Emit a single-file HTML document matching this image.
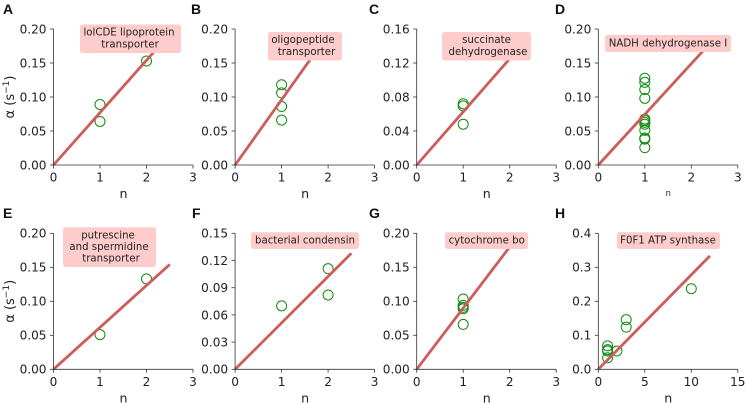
<!DOCTYPE html>
<html>
<head>
<meta charset="utf-8">
<style>
html,body{margin:0;padding:0;background:#fff;width:745px;height:403px;overflow:hidden}
svg{display:block}
text{font-family:"DejaVu Sans","Liberation Sans",sans-serif;fill:#222}
.tick{font-size:12.1px}
.axis{font-size:12.6px}
.ylab{font-size:13px}
.lab{font-size:10.2px;text-anchor:middle}
.letter{font-family:"Liberation Sans",sans-serif;font-weight:bold;font-size:14px;fill:#111}
</style>
</head>
<body>
<svg xmlns="http://www.w3.org/2000/svg" width="745" height="403" viewBox="0 0 745 403">
  <g id="marks"></g>

  <g>
    <text class="letter" x="3" y="14">A</text>
    <text class="letter" x="191" y="14">B</text>
    <text class="letter" x="369" y="14">C</text>
    <text class="letter" x="555" y="14">D</text>
    <text class="letter" x="3" y="218">E</text>
    <text class="letter" x="192" y="218">F</text>
    <text class="letter" x="369" y="218">G</text>
    <text class="letter" x="555" y="218">H</text>
  </g>

  <g>
    <g>
      <rect x="80" y="24.5" width="101" height="28.5" rx="2.5" fill="#ffcccc"/>
      <text class="lab" x="129" y="35.5">lolCDE lipoprotein</text>
      <text class="lab" x="130" y="47.5">transporter</text>
    </g>
    <g>
      <rect x="268" y="32" width="74" height="28.5" rx="2.5" fill="#ffcccc"/>
      <text class="lab" x="303" y="43">oligopeptide</text>
      <text class="lab" x="306.5" y="55">transporter</text>
    </g>
    <g>
      <rect x="442" y="32" width="89" height="28.5" rx="2.5" fill="#ffcccc"/>
      <text class="lab" x="486.5" y="43">succinate</text>
      <text class="lab" x="488" y="55">dehydrogenase</text>
    </g>
    <g>
      <rect x="605" y="35" width="126" height="17" rx="2.5" fill="#ffcccc"/>
      <text class="lab" x="668" y="46.5">NADH dehydrogenase I</text>
    </g>
    <g>
      <rect x="63" y="227.3" width="93" height="39.7" rx="2.5" fill="#ffcccc"/>
      <text class="lab" x="108" y="238.5">putrescine</text>
      <text class="lab" x="109" y="250">and spermidine</text>
      <text class="lab" x="111" y="261.5">transporter</text>
    </g>
    <g>
      <rect x="251" y="232.3" width="108" height="16.7" rx="2.5" fill="#ffcccc"/>
      <text class="lab" x="305" y="243.5">bacterial condensin</text>
    </g>
    <g>
      <rect x="445" y="232.3" width="83" height="16.7" rx="2.5" fill="#ffcccc"/>
      <text class="lab" x="486.7" y="243.5">cytochrome bo</text>
    </g>
    <g>
      <rect x="617" y="232.3" width="103" height="16.7" rx="2.5" fill="#ffcccc"/>
      <text class="lab" x="668" y="243.5">F0F1 ATP synthase</text>
    </g>
  </g>
</svg>
<script>
// Copy numbers per panel
const nA = [1, 1, 2];
const alphaA = [0.089, 0.064, 0.153];
const nB = [1, 1, 1, 1];
const alphaB = [0.118, 0.106, 0.086, 0.066];
const nC = [1, 1, 1];
const alphaC = [0.072, 0.0695, 0.048];
const nD = [1, 1, 1, 1, 1, 1, 1, 1, 1, 1, 1, 1];
const alphaD = [0.1275, 0.1216, 0.111, 0.098, 0.0676, 0.0657, 0.0627, 0.06, 0.051, 0.0397, 0.038, 0.0255];
const nE = [1, 2];
const alphaE = [0.051, 0.133];
const nF = [1, 2, 2];
const alphaF = [0.07, 0.111, 0.082];
const nG = [1, 1, 1, 1, 1];
const alphaG = [0.1034, 0.094, 0.091, 0.089, 0.066];
const nH = [1, 1, 1, 1, 2, 3, 3, 10];
const alphaH = [0.069, 0.058, 0.054, 0.034, 0.054, 0.146, 0.124, 0.237];

// Fit lines: rate per copy and last n drawn
const panelIds = ['a', 'b', 'c', 'd', 'e', 'f', 'g', 'h'];
const fitSlopes = [0.077, 0.096, 0.0625, 0.0745, 0.0617, 0.0512, 0.09, 0.0278];
const fitEnds = [2.3, 1.8, 2.1, 2.4, 2.5, 2.5, 2.05, 12];

// Tick labels
const xTicksA = ['0', '1', '2', '3'];
const xTicksH = ['0', '5', '10', '15'];
const yTicksA = ['0.00', '0.05', '0.10', '0.15', '0.20'];
const yTicksC = ['0.00', '0.04', '0.08', '0.12', '0.16'];
const yTicksF = ['0.00', '0.03', '0.06', '0.09', '0.12', '0.15'];
const yTicksH = ['0.0', '0.1', '0.2', '0.3', '0.4'];

const seriesX = [nA, nB, nC, nD, nE, nF, nG, nH];
const seriesY = [alphaA, alphaB, alphaC, alphaD, alphaE, alphaF, alphaG, alphaH];
const xTickSets = [xTicksA, xTicksA, xTicksA, xTicksA, xTicksA, xTicksA, xTicksA, xTicksH];
const yTickSets = [yTicksA, yTicksA, yTicksC, yTicksA, yTicksA, yTicksF, yTicksA, yTicksH];

const NS = 'http://www.w3.org/2000/svg';
const root = document.getElementById('marks');

function make(parent, tag, attrs, txt) {
  const e = document.createElementNS(NS, tag);
  for (const k in attrs) e.setAttribute(k, attrs[k]);
  if (txt !== undefined) e.textContent = txt;
  parent.appendChild(e);
  return e;
}

panelIds.forEach(function (id, i) {
  const col = i % 4;
  const row = Math.floor(i / 4);
  const left = 53.5 + col * 181.6;
  const bottom = 165 + row * 204.3;
  const w = 139.5;
  const h = 136;
  const xLabels = xTickSets[i];
  const yLabels = yTickSets[i];
  const xMax = parseFloat(xLabels[xLabels.length - 1]);
  const yMax = parseFloat(yLabels[yLabels.length - 1]);
  const sx = function (v) { return left + v / xMax * w; };
  const sy = function (v) { return bottom - v / yMax * h; };

  const g = make(root, 'g', {});
  
  

  // Points
  seriesX[i].forEach(function (xv, j) {
    const c = make(g, 'circle', {
      cx: sx(xv), cy: sy(seriesY[i][j]), r: 5,
      fill: 'none', stroke: '#118a11', 'stroke-width': 1
    });
    
    
  });

  // Fit line
  const fit = make(g, 'line', {
    x1: sx(0), y1: sy(0),
    x2: sx(fitEnds[i]), y2: sy(fitSlopes[i] * fitEnds[i]),
    stroke: '#cd5c5c', 'stroke-width': 2.8
  });
  
  

  // Spines
  const ySpine = make(g, 'line', { x1: left, y1: bottom - h, x2: left, y2: bottom, stroke: '#333', 'stroke-width': 0.8 });
  
  
  const xSpine = make(g, 'line', { x1: left, y1: bottom, x2: left + w, y2: bottom, stroke: '#333', 'stroke-width': 0.8 });
  
  

  // X ticks
  xLabels.forEach(function (t) {
    const px = sx(parseFloat(t));
    make(g, 'line', { x1: px, y1: bottom, x2: px, y2: bottom + 3.5, stroke: '#333', 'stroke-width': 0.8 });
    const lab = make(g, 'text', { class: 'tick', x: px, y: bottom + 16.5, 'text-anchor': 'middle' }, t);
    
    
  });

  // Y ticks
  yLabels.forEach(function (t) {
    const py = sy(parseFloat(t));
    make(g, 'line', { x1: left - 3.5, y1: py, x2: left, y2: py, stroke: '#333', 'stroke-width': 0.8 });
    const lab = make(g, 'text', { class: 'tick', x: left - 7, y: py + 4.4, 'text-anchor': 'end' }, t);
    
    
  });

  // X axis title (panel D uses a smaller one)
  const small = id === 'd';
  const xt = make(g, 'text', {
    class: 'axis', x: left + 70, y: small ? bottom + 31 : bottom + 33,
    'text-anchor': 'middle', style: small ? 'font-size:8.4px' : ''
  }, 'n');
  
  

  // Y axis title on the left column
  if (col === 0) {
    const cy = bottom - 68;
    const yt = make(g, 'text', {
      class: 'ylab', transform: 'translate(14 ' + cy + ') rotate(-90)', 'text-anchor': 'middle'
    });
    
    
    make(yt, 'tspan', {}, 'α (s');
    make(yt, 'tspan', { dy: -4.8, style: 'font-size:9px' }, '−1');
    make(yt, 'tspan', { dy: 4.8 }, ')');
  }
});
</script>
</body>
</html>
